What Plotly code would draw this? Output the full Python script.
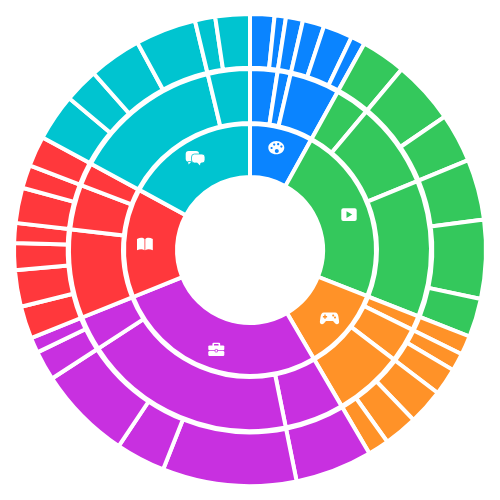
import re

import plotly.graph_objs as go

# values are degrees, every ring is split the same way
art_leaves = [6, 2.8, 4.2, 5.3, 7.2, 3.5]
video_leaves = [11, 15.6, 12, 15, 19.4, 9.5]
games_leaves = [4.7, 4.4, 6.7, 8.8, 8.3, 5.2]
work_leaves = [19, 33, 12.2, 23.2, 7.3, 3.8]
books_leaves = [8, 9, 6.6, 4.9, 8.7, 5.7, 7.5]
chat_leaves = [11.5, 8.5, 13, 15, 5, 8.5]

art_groups = [8.8, 4.2, 16]
video_groups = [11, 27.6, 43.9]
games_groups = [4.7, 11.1, 22.3]
work_groups = [19, 68.4, 11.1]
books_groups = [28.5, 14.4, 7.5]
chat_groups = [48, 13.5]

categories = ["art", "video", "games", "work", "books", "chat"]
category_values = [29, 82.5, 38.1, 98.5, 50.4, 61.5]
category_colors = ["#0a84ff", "#34c85c", "#ff9228", "#c830e0", "#ff383c", "#00c4d0"]

SIZE = 500
BG = "white"
GAP = 4


def ring_colors(parts):
    colors = []
    for part, color in zip(parts, category_colors):
        colors += [color] * len(part)
    return colors


def ring(values, colors, outer, inner):
    half = outer / SIZE
    return go.Pie(
        values=values,
        labels=[str(i) for i in range(len(values))],
        hole=inner / outer,
        sort=False,
        direction="clockwise",
        rotation=0,
        textinfo="none",
        hoverinfo="skip",
        showlegend=False,
        domain=dict(x=[0.5 - half, 0.5 + half], y=[0.5 - half, 0.5 + half]),
        marker=dict(colors=colors, line=dict(color=BG, width=GAP)),
    )


def to_paper(path):
    # icon paths are written in picture pixels, shapes want paper coordinates
    def pair(match):
        x, y = float(match.group(1)), float(match.group(2))
        return "%.5f,%.5f" % (x / SIZE, 1 - y / SIZE)
    return re.sub(r"(-?[\d.]+),(-?[\d.]+)", pair, path)


def ellipse(cx, cy, rx, ry):
    k = 0.5523
    return (
        f"M{cx - rx},{cy} "
        f"C{cx - rx},{cy - k * ry} {cx - k * rx},{cy - ry} {cx},{cy - ry} "
        f"C{cx + k * rx},{cy - ry} {cx + rx},{cy - k * ry} {cx + rx},{cy} "
        f"C{cx + rx},{cy + k * ry} {cx + k * rx},{cy + ry} {cx},{cy + ry} "
        f"C{cx - k * rx},{cy + ry} {cx - rx},{cy + k * ry} {cx - rx},{cy} Z "
    )


def round_rect(x, y, w, h, r):
    x2, y2 = x + w, y + h
    return (
        f"M{x + r},{y} L{x2 - r},{y} Q{x2},{y} {x2},{y + r} "
        f"L{x2},{y2 - r} Q{x2},{y2} {x2 - r},{y2} "
        f"L{x + r},{y2} Q{x},{y2} {x},{y2 - r} "
        f"L{x},{y + r} Q{x},{y} {x + r},{y} Z "
    )


palette = (
    ellipse(276.3, 147.7, 8, 6.6)
    + ellipse(271.6, 148, 1.1, 1.1)
    + ellipse(274.2, 144.6, 1.1, 1.1)
    + ellipse(278.2, 144.2, 1.1, 1.1)
    + ellipse(281.4, 146.6, 1.1, 1.1)
    + ellipse(276.8, 151, 2, 2)
)
play = round_rect(341.3, 208.3, 15.4, 12.7, 2) + "M346.5,211.3 L346.5,218 L352.2,214.6 Z"
gamepad = (
    "M324,312.4 L335,312.4 C337.2,312.4 338,314 338.5,317 L339.1,321.5 "
    "C339.4,324.2 336.6,325.2 335,323.2 L333,321 L326,321 L324,323.2 "
    "C322.4,325.2 319.6,324.2 319.9,321.5 L320.5,317 C321,314 321.8,312.4 324,312.4 Z "
    "M324.3,314.6 L325.7,314.6 L325.7,316 L327.1,316 L327.1,317.4 L325.7,317.4 "
    "L325.7,318.8 L324.3,318.8 L324.3,317.4 L322.9,317.4 L322.9,316 L324.3,316 Z "
    + ellipse(333.2, 315.4, 1, 1)
    + ellipse(335, 317.6, 1, 1)
)
case_handle = round_rect(212.4, 342.7, 7.8, 4, 1.2) + round_rect(214, 344.1, 4.6, 2.6, 0.5)
case_top = round_rect(208.3, 345.4, 16, 4.8, 1.2)
case_bottom = round_rect(208.3, 351, 16, 5, 1.2)
case_clasp = round_rect(215.1, 349.4, 2.4, 2.6, 0.4)
book = (
    "M137,239 C140,237.4 143,237.4 144.5,239 L144.5,250.3 C142.6,249 140,249 137,250.3 Z "
    "M145.3,239 C146.8,237.4 149.8,237.4 152.8,239 L152.8,250.3 C149.8,249 147.2,249 145.3,250.3 Z"
)
bubble_back = (
    round_rect(185.7, 151, 13.4, 10.8, 3)
    + "M188,161 L188.6,164.4 L192,161 Z"
)
bubble_front = (
    "M194.5,154 L202,154 Q205,154 205,157 L205,160 Q205,163 202,163 L201,163 "
    "L199.8,166 L197.3,163 L194.5,163 Q191.5,163 191.5,160 L191.5,157 Q191.5,154 194.5,154 Z"
)

# (path, fill, outline color) in drawing order
icons = [
    (palette, BG, None),
    (play, BG, None),
    (gamepad, BG, None),
    (case_handle, BG, None),
    (case_top, BG, None),
    (case_bottom, BG, None),
    (case_clasp, BG, category_colors[3]),
    (book, BG, None),
    (bubble_back, BG, None),
    (bubble_front, BG, category_colors[5]),
]

leaves = [art_leaves, video_leaves, games_leaves, work_leaves, books_leaves, chat_leaves]
groups = [art_groups, video_groups, games_groups, work_groups, books_groups, chat_groups]

fig = go.Figure()
fig.add_trace(ring(sum(leaves, []), ring_colors(leaves), 236, 182.3))
fig.add_trace(ring(sum(groups, []), ring_colors(groups), 181, 127))
fig.add_trace(ring(category_values, category_colors, 126, 73))

for path, fill, outline in icons:
    fig.add_shape(
        type="path",
        path=to_paper(path),
        xref="paper",
        yref="paper",
        fillcolor=fill,
        line=dict(color=outline or fill, width=0.8 if outline else 0),
        layer="above",
    )

fig.update_layout(
    width=SIZE,
    height=SIZE,
    margin=dict(l=0, r=0, t=0, b=0),
    paper_bgcolor=BG,
    plot_bgcolor=BG,
)

fig.write_html("out.html", config=dict(displayModeBar=False), post_script="document.body.style.margin='0';")
